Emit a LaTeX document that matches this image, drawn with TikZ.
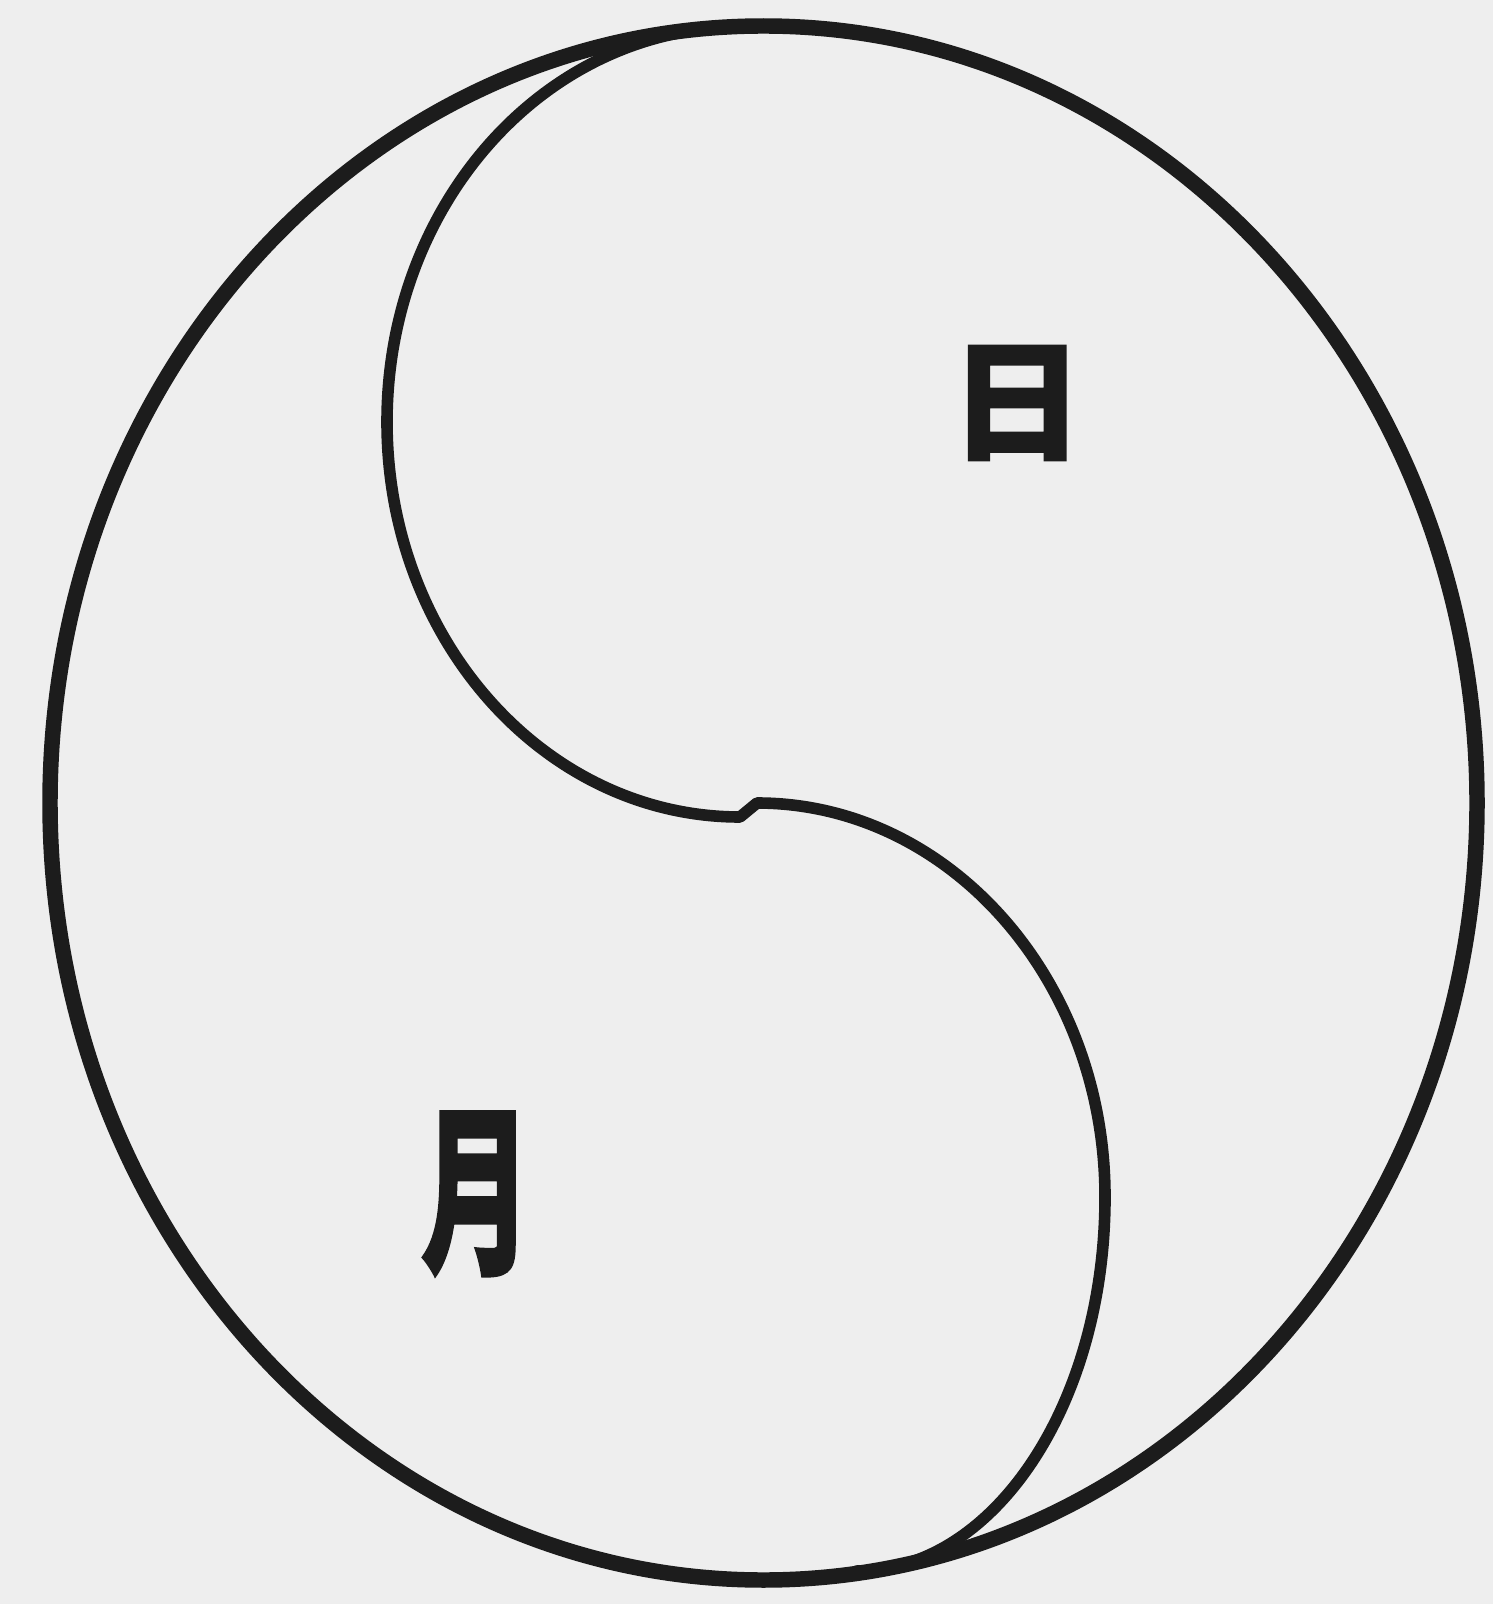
\documentclass[tikz,border=0pt]{standalone}
\usepackage{fontspec}
\newfontfamily\cjk[FakeBold=1.5]{Noto Sans CJK SC}
\definecolor{paper}{HTML}{EEEEEE}
\definecolor{ink}{HTML}{1C1C1C}
\tikzset{
  outerline/.style={draw=ink, line width=4.4pt},
  innerline/.style={draw=ink, line width=3.3pt, line join=round, line cap=round},
  glyph/.style={text=ink, font=\cjk\bfseries\fontsize{37}{37}\selectfont, inner sep=0pt}
}
\begin{document}
\begin{tikzpicture}[x=0.01cm, y=-0.01cm]
  \fill[paper] (0,0) rectangle (1493,1604);
  \useasboundingbox (0,0) rectangle (1493,1604);
  % outer ellipse
  \path[outerline] (763.5,803) ellipse[x radius=713.5, y radius=777];
  % inner S curve
  \coordinate (T) at (740,27);
  \coordinate (M2) at (757,803);
  \path[innerline] (T) arc[start angle=-90, end angle=-270, x radius=353, y radius=395]
     -- (M2)
     arc[start angle=-90, end angle=0, x radius=348, y radius=394]
     arc[start angle=0, end angle=90, x radius=248, y radius=374];
  % labels
  \node[glyph, xscale=1.03] (sun) at (1017,403) {日};
  \node[glyph, xscale=0.85, yscale=1.4] (moon) at (476,1194) {月};
\end{tikzpicture}
\end{document}
